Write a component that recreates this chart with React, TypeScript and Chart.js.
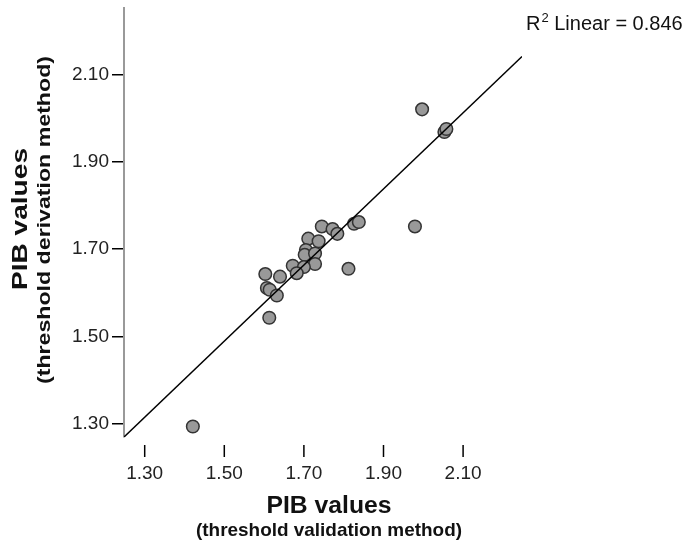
import React, { useEffect, useRef } from 'react';
import { Chart, registerables } from 'chart.js';

Chart.register(...registerables);

// PIB values (threshold validation method) — x
const validationPIB = [
  1.421, 1.997, 2.053, 2.058, 1.979, 1.812, 1.745, 1.772, 1.784, 1.826,
  1.838, 1.711, 1.737, 1.705, 1.702, 1.728, 1.728, 1.672, 1.700, 1.682,
  1.603, 1.640, 1.607, 1.614, 1.632, 1.613,
];
// PIB values (threshold derivation method) — y
const derivationPIB = [
  1.294, 2.020, 1.968, 1.975, 1.752, 1.655, 1.752, 1.746, 1.735, 1.758,
  1.762, 1.724, 1.718, 1.698, 1.687, 1.690, 1.666, 1.662, 1.659, 1.645,
  1.643, 1.637, 1.611, 1.607, 1.594, 1.543,
];
// Linear fit line end points
const fitX = [1.248, 2.248];
const fitY = [1.27, 2.141];
const rSquared = '0.846';

const xTicks = [1.3, 1.5, 1.7, 1.9, 2.1];
const yTicks = [1.3, 1.5, 1.7, 1.9, 2.1];
const xRange = [1.248, 2.248];
const yRange = [1.27, 2.252];

const xTitle = ['PIB values', '(threshold validation method)'];
const yTitle = ['PIB values', '(threshold derivation method)'];

const FONT = '"Liberation Sans", Arial, Helvetica, sans-serif';

function fitText(ctx: any, text: string, cx: number, cy: number, size: number, len: number) {
  ctx.font = `bold ${size}px ${FONT}`;
  const w = ctx.measureText(text).width;
  ctx.save();
  ctx.translate(cx, cy);
  ctx.scale(len / w, 1);
  ctx.fillText(text, 0, 0);
  ctx.restore();
}

const overlay = {
  id: 'overlay',
  afterDraw(chart: any) {
    const { ctx, chartArea } = chart;
    const x = chart.scales.x;
    ctx.save();
    // detached x tick marks
    ctx.strokeStyle = '#000';
    ctx.lineWidth = 1.5;
    xTicks.forEach((v) => {
      const px = x.getPixelForValue(v);
      ctx.beginPath();
      ctx.moveTo(px, chartArea.bottom + 8);
      ctx.lineTo(px, chartArea.bottom + 20);
      ctx.stroke();
    });
    // axis titles
    ctx.fillStyle = '#111';
    ctx.textAlign = 'center';
    ctx.textBaseline = 'middle';
    fitText(ctx, xTitle[0], 329, 507, 23, 125);
    fitText(ctx, xTitle[1], 329, 531, 19, 266);
    ctx.save();
    ctx.translate(0, 0);
    ctx.rotate(-Math.PI / 2);
    // rotated frame: (x', y') = (-y, x)
    fitText(ctx, yTitle[0], -219, 21, 22, 142);
    fitText(ctx, yTitle[1], -220, 45, 19, 328);
    ctx.restore();
    // R² label
    ctx.textAlign = 'left';
    ctx.textBaseline = 'alphabetic';
    ctx.fillStyle = '#111';
    ctx.font = `20px ${FONT}`;
    let tx = 526;
    const ty = 30;
    ctx.fillText('R', tx, ty);
    tx += ctx.measureText('R').width;
    ctx.font = `13px ${FONT}`;
    ctx.fillText('2', tx + 1, ty - 8);
    tx += ctx.measureText('2').width + 1;
    ctx.font = `20px ${FONT}`;
    ctx.fillText(' Linear = ' + rSquared, tx, ty);
    ctx.restore();
  },
};

export default function App() {
  const ref = useRef<HTMLCanvasElement>(null);
  useEffect(() => {
    if (!ref.current) return;
    const points = validationPIB.map((v, i) => ({ x: v, y: derivationPIB[i] }));
    const fit = fitX.map((v, i) => ({ x: v, y: fitY[i] }));
    const chart = new Chart(ref.current, {
      type: 'scatter',
      data: {
        datasets: [
          {
            type: 'line',
            data: fit,
            borderColor: '#000',
            borderWidth: 1.5,
            pointRadius: 0,
            fill: false,
            order: 0,
          },
          {
            data: points,
            backgroundColor: '#999999',
            borderColor: '#333333',
            borderWidth: 1.5,
            pointRadius: 6.3,
            order: 1,
          },
        ],
      },
      options: {
        animation: false,
        responsive: false,
        maintainAspectRatio: false,
        layout: { padding: { left: 0, top: 8, right: 169, bottom: 0 } },
        plugins: { legend: { display: false }, tooltip: { enabled: false } },
        scales: {
          x: {
            type: 'linear',
            min: xRange[0],
            max: xRange[1],
            afterBuildTicks: (s: any) => {
              s.ticks = xTicks.map((v) => ({ value: v }));
            },
            afterFit: (s: any) => {
              s.height = 111;
              s.paddingLeft = 0;
              s.paddingRight = 0;
            },
            border: { display: false },
            grid: {
              display: true,
              drawOnChartArea: false,
              color: 'rgba(0,0,0,0)',
              tickLength: 20,
            },
            ticks: {
              padding: 5,
              color: '#222',
              font: { family: FONT, size: 19 },
              callback: (v: any) => Number(v).toFixed(2),
            },
          },
          y: {
            type: 'linear',
            min: yRange[0],
            max: yRange[1],
            afterBuildTicks: (s: any) => {
              s.ticks = yTicks.map((v) => ({ value: v }));
            },
            afterFit: (s: any) => {
              s.width = 124;
              s.paddingTop = 0;
              s.paddingBottom = 0;
            },
            border: { display: true, color: '#999', width: 2 },
            grid: {
              display: true,
              drawOnChartArea: false,
              color: '#000',
              lineWidth: 1.5,
              tickLength: 12,
            },
            ticks: {
              padding: 3,
              color: '#222',
              font: { family: FONT, size: 19 },
              callback: (v: any) => Number(v).toFixed(2),
            },
          },
        },
      },
      plugins: [overlay],
    });
    return () => chart.destroy();
  }, []);
  return (
    <div style={{ position: 'absolute', left: 0, top: 0, width: 691, height: 548, background: '#fff' }}>
      <canvas ref={ref} width={691} height={548} style={{ display: 'block' }} />
    </div>
  );
}
